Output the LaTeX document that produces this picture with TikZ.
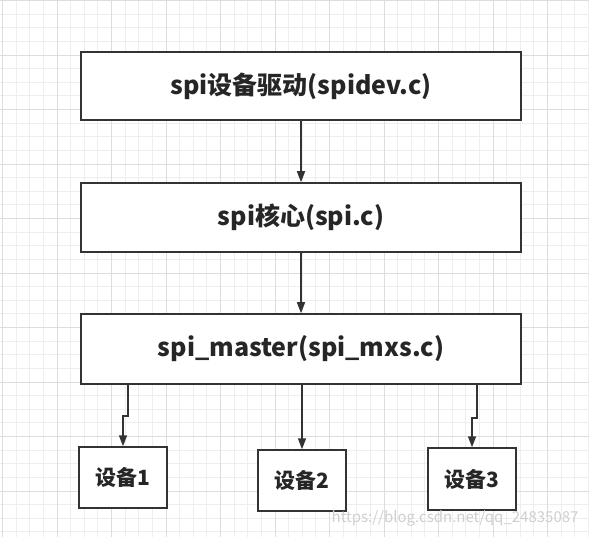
\documentclass[tikz,border=0pt]{standalone}
\usepackage{xcolor}
\usepackage{fontspec}
\usepackage{tikz}
\usetikzlibrary{arrows.meta}
\newfontfamily\cjk{Noto Sans CJK SC}
\definecolor{SPLine}{HTML}{333333}
\definecolor{SPText}{HTML}{262626}
\definecolor{SPGrid}{HTML}{EEEEEE}
\definecolor{SPMajor}{HTML}{DDDDDD}
\definecolor{SPMark}{HTML}{CFCFCF}
\tikzset{
  layer/.style={draw=SPLine,line width=1.5pt,fill=white,minimum width=440pt,
    inner sep=0pt,font=\cjk\bfseries\fontsize{25}{29}\selectfont,text=SPText},
  devbox/.style={draw=SPLine,line width=1.5pt,fill=white,minimum width=88pt,
    minimum height=61pt,inner sep=0pt,font=\cjk\bfseries\fontsize{21}{25}\selectfont,text=SPText},
  arr/.style={draw=SPLine,line width=1.5pt,-{Triangle[length=11pt,width=8pt]}}
}

\begin{document}
\begin{tikzpicture}[x=1pt,y=-1pt]
\path[use as bounding box,fill=white] (0,0) rectangle (589,537);
% background grid
\foreach \k in {0,...,43} {
  \draw[SPGrid,line width=0.8pt] (2.5+13.625*\k,0) -- (2.5+13.625*\k,537);
  \draw[SPGrid,line width=0.8pt] (0,0.5+13.625*\k) -- (589,0.5+13.625*\k);
}
\foreach \k in {0,...,10} {
  \draw[SPMajor,line width=0.8pt] (2.5+54.5*\k,0) -- (2.5+54.5*\k,537);
  \draw[SPMajor,line width=0.8pt] (0,0.5+54.5*\k) -- (589,0.5+54.5*\k);
}
% layers
\node[layer,minimum height=68pt] (spidev) at (301,86) {spi设备驱动(spidev.c)};
\node[layer,minimum height=69pt] (core) at (301,217.5) {spi核心(spi.c)};
\node[layer,minimum height=70pt] (master) at (301,349) {spi\_master(spi\_mxs.c)};
% devices
\node[devbox] (dev1) at (123,477.5) {设备1};
\node[devbox] (dev2) at (302,480.5) {设备2};
\node[devbox,minimum height=62pt] (dev3) at (472,479) {设备3};
% arrows
\draw[arr] (spidev) -- (core);
\draw[arr] (core) -- (master);
\draw[arr] ([xshift=5pt]dev1.north |- master.south) -- ++(0,31) -| (dev1.north);
\draw[arr] (dev2.north |- master.south) -- (dev2.north);
\draw[arr] ([xshift=5pt]dev3.north |- master.south) -- ++(0,33) -| (dev3.north);
% watermark
\node[anchor=east,text=SPMark,font=\cjk\fontsize{15}{18}\selectfont] (mark) at (582,518) {https://blog.csdn.net/qq\_24835087};
\end{tikzpicture}
\end{document}
